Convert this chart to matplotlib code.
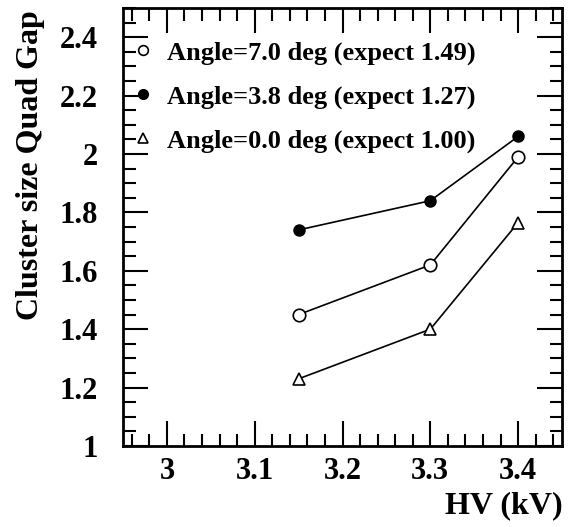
import matplotlib
matplotlib.use('Agg')
import matplotlib.pyplot as plt
from matplotlib.ticker import MultipleLocator, FormatStrFormatter
from matplotlib.lines import Line2D

hv = [3.15, 3.3, 3.4]
size_7deg = [1.45, 1.62, 1.99]
size_38deg = [1.74, 1.84, 2.06]
size_0deg = [1.23, 1.40, 1.765]
labels = ['Angle=7.0 deg (expect 1.49)',
          'Angle=3.8 deg (expect 1.27)',
          'Angle=0.0 deg (expect 1.00)']

plt.rcParams['font.family'] = ['Liberation Serif', 'DejaVu Serif']
plt.rcParams['font.weight'] = 'bold'

fig = plt.figure(figsize=(5.68, 5.27), dpi=100)
ax = fig.add_axes([123 / 568, 1 - 446 / 527, (562 - 123) / 568, (446 - 8) / 527])

ax.plot(hv, size_7deg, color='black', lw=1.2, marker='o', ms=9,
        mfc='white', mec='black', mew=1.2)
ax.plot(hv, size_38deg, color='black', lw=1.2, marker='o', ms=8,
        mfc='black', mec='black')
ax.plot(hv, size_0deg, color='black', lw=1.2, marker='^', ms=9,
        mfc='white', mec='black', mew=1.2)

ax.set_xlim(2.95, 3.45)
ax.set_ylim(1, 2.5)
ax.xaxis.set_major_locator(MultipleLocator(0.1))
ax.xaxis.set_minor_locator(MultipleLocator(0.02))
ax.yaxis.set_major_locator(MultipleLocator(0.2))
ax.yaxis.set_minor_locator(MultipleLocator(0.05))
ax.xaxis.set_major_formatter(FormatStrFormatter('%g'))
ax.yaxis.set_major_formatter(FormatStrFormatter('%g'))
ax.tick_params(which='both', direction='in', top=True, right=True, width=1.5)
ax.tick_params(which='major', length=18, labelsize=22)
ax.tick_params(axis='x', which='major', pad=8)
ax.tick_params(axis='y', which='major', pad=18)
ax.tick_params(which='minor', length=9)
for sp in ax.spines.values():
    sp.set_linewidth(2)

handles = [
    Line2D([], [], ls='none', marker='o', ms=7, mfc='white', mec='black', mew=1.2),
    Line2D([], [], ls='none', marker='o', ms=7, mfc='black', mec='black'),
    Line2D([], [], ls='none', marker='^', ms=7, mfc='white', mec='black', mew=1.2),
]
ax.legend(handles, labels, loc='upper left', bbox_to_anchor=(-0.02, 0.961),
          frameon=False, fontsize=19, handlelength=1.0, handletextpad=0.4,
          labelspacing=0.76, borderaxespad=0.2)

fig.text(38 / 568, 1 - 10 / 527, 'Cluster size Quad Gap', rotation=90,
         rotation_mode='anchor', ha='right', va='baseline',
         fontsize=23, fontweight='bold')
fig.text(563 / 568, 1 - 520 / 527, 'HV (kV)', ha='right', va='bottom',
         fontsize=23, fontweight='bold')

fig.savefig('out.png', dpi=100)
